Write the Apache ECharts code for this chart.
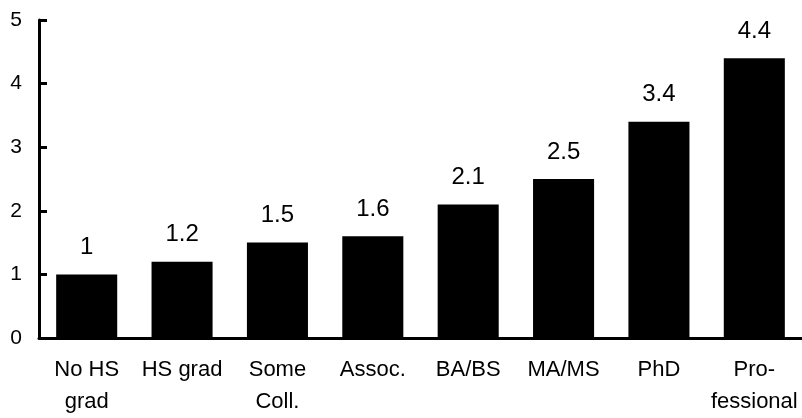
<!DOCTYPE html>
<html>
<head>
<meta charset="utf-8">
<script src="https://cdn.jsdelivr.net/npm/echarts@6/dist/echarts.min.js"></script>
<style>
  html, body { margin: 0; padding: 0; background: #fff; }
  #chart { width: 802px; height: 418px; }
</style>
</head>
<body>
<div id="chart"></div>
<script>
// categories and values
var categories = ['No HS\ngrad', 'HS grad', 'Some\nColl.', 'Assoc.', 'BA/BS', 'MA/MS', 'PhD', 'Pro-\nfessional'];
var values = [1, 1.2, 1.5, 1.6, 2.1, 2.5, 3.4, 4.4];
var yTicks = [0, 1, 2, 3, 4, 5];

var myChart = echarts.init(document.getElementById('chart'));
var font = '"Liberation Sans", Arial, sans-serif';
var option = {
  animation: false,
  grid: {
    left: 39,
    top: 20,
    width: 765,
    height: 320
  },
  xAxis: {
    type: 'category',
    data: categories,
    axisLine: { lineStyle: { color: '#000', width: 3 } },
    axisTick: { inside: true, length: 8, lineStyle: { color: '#000', width: 2 } },
    axisLabel: {
      interval: 0,
      margin: 16,
      color: '#000',
      fontFamily: font,
      fontSize: 22,
      lineHeight: 32
    }
  },
  yAxis: {
    type: 'value',
    min: yTicks[0],
    max: yTicks[yTicks.length - 1],
    interval: 1,
    axisLine: { show: true, lineStyle: { color: '#000', width: 3 } },
    axisTick: { show: true, inside: true, length: 8, lineStyle: { color: '#000', width: 3 } },
    axisLabel: {
      margin: 17,
      color: '#000',
      fontFamily: font,
      fontSize: 21
    },
    splitLine: { show: false }
  },
  series: [
    {
      type: 'bar',
      data: values,
      barWidth: '64%',
      itemStyle: { color: '#000' },
      label: {
        show: true,
        position: 'top',
        distance: 15,
        color: '#000',
        fontFamily: font,
        fontSize: 24
      }
    }
  ]
};
myChart.setOption(option);
</script>
</body>
</html>
